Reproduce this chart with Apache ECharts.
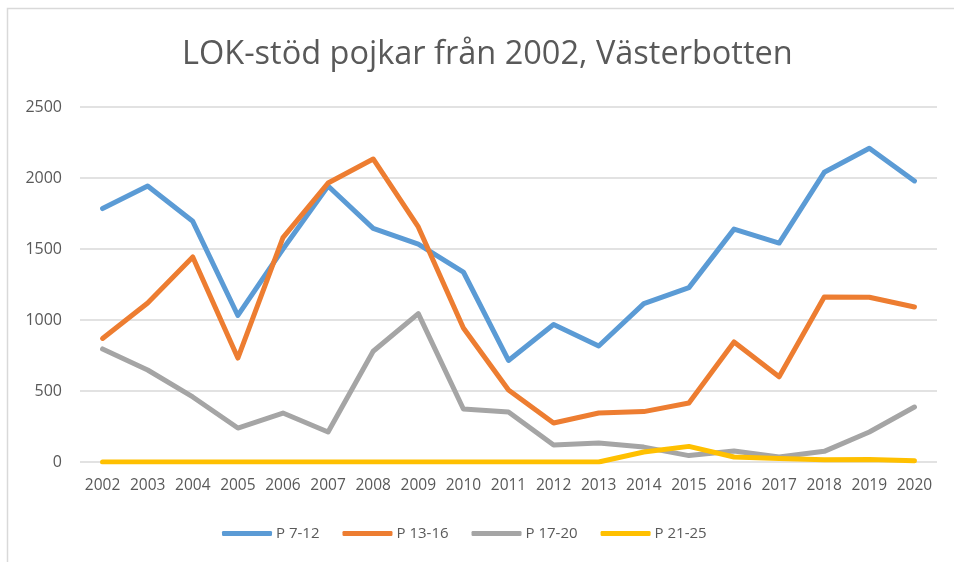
<!DOCTYPE html>
<html>
<head>
<meta charset="utf-8">
<script src="https://cdn.jsdelivr.net/npm/echarts@6/dist/echarts.min.js"></script>
<style>
  html, body { margin: 0; padding: 0; background: #fff; }
  #chart { width: 954px; height: 562px; }
</style>
</head>
<body>
<div id="chart"></div>
<script>
const years = ['2002', '2003', '2004', '2005', '2006', '2007', '2008', '2009', '2010', '2011',
  '2012', '2013', '2014', '2015', '2016', '2017', '2018', '2019', '2020'];

const p7_12 = [1785, 1944, 1695, 1032, 1500, 1944, 1645, 1535, 1338, 715,
  968, 817, 1115, 1228, 1640, 1542, 2040, 2210, 1979];
const p13_16 = [870, 1120, 1444, 732, 1580, 1965, 2134, 1655, 944, 507,
  275, 345, 355, 415, 845, 600, 1162, 1160, 1092];
const p17_20 = [796, 648, 458, 239, 345, 211, 780, 1045, 373, 352,
  120, 134, 105, 45, 77, 35, 75, 211, 387];
const p21_25 = [0, 0, 0, 0, 0, 0, 0, 0, 0, 0,
  0, 0, 70, 110, 35, 25, 15, 18, 8];

const names = ['P 7-12', 'P 13-16', 'P 17-20', 'P 21-25'];
const colors = ['#5B9BD5', '#ED7D31', '#A5A5A5', '#FFC000'];
const values = [p7_12, p13_16, p17_20, p21_25];

const textColor = '#595959';
const font = 'Open Sans';

const chart = echarts.init(document.getElementById('chart'));

chart.setOption({
  animation: false,
  color: colors,
  textStyle: { fontFamily: font },
  title: {
    text: 'LOK-stöd pojkar från 2002, Västerbotten',
    left: 177,
    top: 33,
    textStyle: { fontFamily: font, fontSize: 32.5, fontWeight: 'normal', color: textColor },
  },
  graphic: [{
    type: 'rect',
    shape: { x: 7.5, y: 8.5, width: 1000, height: 700 },
    style: { fill: 'none', stroke: '#d9d9d9', lineWidth: 1.5 },
    silent: true,
  }],
  grid: { left: 80, right: 17, top: 107, bottom: 100 },
  legend: {
    bottom: 16,
    left: 217,
    icon: 'roundRect',
    itemWidth: 50,
    itemHeight: 5,
    itemGap: 23,
    textStyle: { fontFamily: font, fontSize: 15, color: textColor, padding: [0, 0, 0, -1] },
    data: names,
  },
  xAxis: {
    type: 'category',
    data: years,
    boundaryGap: true,
    axisLine: { show: false },
    axisTick: { show: false },
    axisLabel: { color: textColor, fontSize: 15.5, fontFamily: font, margin: 16, interval: 0 },
  },
  yAxis: {
    type: 'value',
    min: 0,
    max: 2500,
    interval: 500,
    axisLine: { show: false },
    axisTick: { show: false },
    axisLabel: { color: textColor, fontSize: 16, fontFamily: font, margin: 18, formatter: v => String(v) },
    splitLine: { lineStyle: { color: '#d9d9d9', width: 1.5 } },
  },
  series: names.map((n, i) => ({
    name: n,
    type: 'line',
    data: values[i],
    symbol: 'none',
    lineStyle: { width: 5, color: colors[i], cap: 'round', join: 'round' },
    itemStyle: { color: colors[i] },
  })),
});
</script>
</body>
</html>
